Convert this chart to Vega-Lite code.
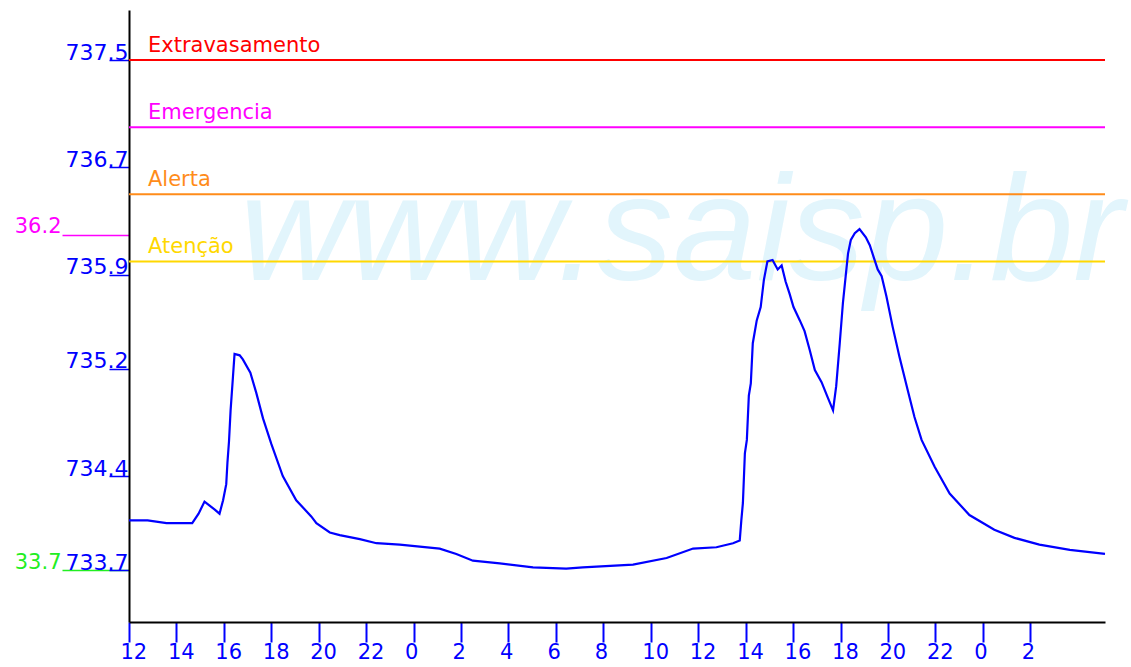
{
  "$schema": "https://vega.github.io/schema/vega-lite/v6.json",
  "width": 976,
  "height": 612,
  "autosize": {"type": "none"},
  "padding": {"left": 129, "top": 10, "right": 26, "bottom": 45},
  "background": "white",
  "config": {
    "view": {"stroke": null},
    "axis": {
      "grid": false,
      "domainColor": "#000000",
      "domainWidth": 2,
      "tickColor": "#0000ff",
      "tickWidth": 2,
      "labelColor": "#0000ff",
      "labelFont": "DejaVu Sans",
      "labelFontSize": 21,
      "labelOverlap": false,
      "labelFlush": false,
      "labelBound": false
    }
  },
  "datasets": {
    "cota": [
      {"t": "2010-01-01T12:00:00Z", "v": 734.07},
      {"t": "2010-01-01T12:47:00Z", "v": 734.07},
      {"t": "2010-01-01T13:35:00Z", "v": 734.05},
      {"t": "2010-01-01T14:40:00Z", "v": 734.05},
      {"t": "2010-01-01T14:56:00Z", "v": 734.12},
      {"t": "2010-01-01T15:11:00Z", "v": 734.21},
      {"t": "2010-01-01T15:24:00Z", "v": 734.18},
      {"t": "2010-01-01T15:37:00Z", "v": 734.15},
      {"t": "2010-01-01T15:49:00Z", "v": 734.12},
      {"t": "2010-01-01T15:58:00Z", "v": 734.22},
      {"t": "2010-01-01T16:06:00Z", "v": 734.34},
      {"t": "2010-01-01T16:09:00Z", "v": 734.50},
      {"t": "2010-01-01T16:13:00Z", "v": 734.66},
      {"t": "2010-01-01T16:17:00Z", "v": 734.89},
      {"t": "2010-01-01T16:23:00Z", "v": 735.14},
      {"t": "2010-01-01T16:27:00Z", "v": 735.31},
      {"t": "2010-01-01T16:40:00Z", "v": 735.30},
      {"t": "2010-01-01T16:48:00Z", "v": 735.27},
      {"t": "2010-01-01T17:07:00Z", "v": 735.17},
      {"t": "2010-01-01T17:22:00Z", "v": 735.02},
      {"t": "2010-01-01T17:39:00Z", "v": 734.83},
      {"t": "2010-01-01T18:00:00Z", "v": 734.64},
      {"t": "2010-01-01T18:29:00Z", "v": 734.40},
      {"t": "2010-01-01T19:03:00Z", "v": 734.22},
      {"t": "2010-01-01T19:41:00Z", "v": 734.10},
      {"t": "2010-01-01T19:54:00Z", "v": 734.05},
      {"t": "2010-01-01T20:28:00Z", "v": 733.98},
      {"t": "2010-01-01T20:53:00Z", "v": 733.96},
      {"t": "2010-01-01T21:44:00Z", "v": 733.93},
      {"t": "2010-01-01T22:26:00Z", "v": 733.90},
      {"t": "2010-01-01T23:25:00Z", "v": 733.89},
      {"t": "2010-01-02T01:06:00Z", "v": 733.86},
      {"t": "2010-01-02T01:48:00Z", "v": 733.82},
      {"t": "2010-01-02T02:30:00Z", "v": 733.77},
      {"t": "2010-01-02T03:38:00Z", "v": 733.75},
      {"t": "2010-01-02T05:02:00Z", "v": 733.72},
      {"t": "2010-01-02T06:26:00Z", "v": 733.71},
      {"t": "2010-01-02T07:08:00Z", "v": 733.72},
      {"t": "2010-01-02T09:15:00Z", "v": 733.74},
      {"t": "2010-01-02T10:40:00Z", "v": 733.79},
      {"t": "2010-01-02T11:47:00Z", "v": 733.86},
      {"t": "2010-01-02T12:46:00Z", "v": 733.87},
      {"t": "2010-01-02T13:28:00Z", "v": 733.90},
      {"t": "2010-01-02T13:45:00Z", "v": 733.92},
      {"t": "2010-01-02T13:49:00Z", "v": 734.07},
      {"t": "2010-01-02T13:53:00Z", "v": 734.20},
      {"t": "2010-01-02T13:58:00Z", "v": 734.57},
      {"t": "2010-01-02T14:03:00Z", "v": 734.67},
      {"t": "2010-01-02T14:08:00Z", "v": 735.00},
      {"t": "2010-01-02T14:13:00Z", "v": 735.09},
      {"t": "2010-01-02T14:18:00Z", "v": 735.39},
      {"t": "2010-01-02T14:28:00Z", "v": 735.56},
      {"t": "2010-01-02T14:38:00Z", "v": 735.66},
      {"t": "2010-01-02T14:46:00Z", "v": 735.86},
      {"t": "2010-01-02T14:55:00Z", "v": 736.00},
      {"t": "2010-01-02T15:08:00Z", "v": 736.01},
      {"t": "2010-01-02T15:21:00Z", "v": 735.94},
      {"t": "2010-01-02T15:31:00Z", "v": 735.97},
      {"t": "2010-01-02T15:41:00Z", "v": 735.85},
      {"t": "2010-01-02T15:51:00Z", "v": 735.76},
      {"t": "2010-01-02T16:01:00Z", "v": 735.66},
      {"t": "2010-01-02T16:17:00Z", "v": 735.56},
      {"t": "2010-01-02T16:29:00Z", "v": 735.48},
      {"t": "2010-01-02T16:42:00Z", "v": 735.34},
      {"t": "2010-01-02T16:55:00Z", "v": 735.19},
      {"t": "2010-01-02T17:12:00Z", "v": 735.10},
      {"t": "2010-01-02T17:27:00Z", "v": 734.99},
      {"t": "2010-01-02T17:41:00Z", "v": 734.89},
      {"t": "2010-01-02T17:49:00Z", "v": 735.07},
      {"t": "2010-01-02T17:58:00Z", "v": 735.39},
      {"t": "2010-01-02T18:06:00Z", "v": 735.69},
      {"t": "2010-01-02T18:13:00Z", "v": 735.89},
      {"t": "2010-01-02T18:19:00Z", "v": 736.06},
      {"t": "2010-01-02T18:26:00Z", "v": 736.16},
      {"t": "2010-01-02T18:36:00Z", "v": 736.21},
      {"t": "2010-01-02T18:48:00Z", "v": 736.24},
      {"t": "2010-01-02T19:04:00Z", "v": 736.18},
      {"t": "2010-01-02T19:14:00Z", "v": 736.12},
      {"t": "2010-01-02T19:24:00Z", "v": 736.03},
      {"t": "2010-01-02T19:34:00Z", "v": 735.94},
      {"t": "2010-01-02T19:44:00Z", "v": 735.89},
      {"t": "2010-01-02T19:56:00Z", "v": 735.74},
      {"t": "2010-01-02T20:12:00Z", "v": 735.51},
      {"t": "2010-01-02T20:29:00Z", "v": 735.29},
      {"t": "2010-01-02T20:50:00Z", "v": 735.04},
      {"t": "2010-01-02T21:07:00Z", "v": 734.84},
      {"t": "2010-01-02T21:25:00Z", "v": 734.67},
      {"t": "2010-01-02T21:58:00Z", "v": 734.47},
      {"t": "2010-01-02T22:36:00Z", "v": 734.27},
      {"t": "2010-01-02T23:26:00Z", "v": 734.11},
      {"t": "2010-01-03T00:29:00Z", "v": 734.00},
      {"t": "2010-01-03T01:20:00Z", "v": 733.94},
      {"t": "2010-01-03T02:23:00Z", "v": 733.89},
      {"t": "2010-01-03T03:40:00Z", "v": 733.85},
      {"t": "2010-01-03T05:09:00Z", "v": 733.82}
    ],
    "niveis": [
      {"nivel": "Extravasamento", "v": 737.5, "t": "2010-01-01T12:00:00Z", "t2": "2010-01-03T05:09:00Z"},
      {"nivel": "Emergencia", "v": 737.0, "t": "2010-01-01T12:00:00Z", "t2": "2010-01-03T05:09:00Z"},
      {"nivel": "Alerta", "v": 736.5, "t": "2010-01-01T12:00:00Z", "t2": "2010-01-03T05:09:00Z"},
      {"nivel": "Atenção", "v": 736.0, "t": "2010-01-01T12:00:00Z", "t2": "2010-01-03T05:09:00Z"}
    ],
    "marca": [
      {"texto": "www.saisp.br", "t": "2010-01-01T16:40:00Z", "v": 735.86}
    ]
  },
  "layer": [
    {
      "data": {"name": "marca"},
      "mark": {"type": "text", "font": "Liberation Sans", "fontStyle": "italic", "fontSize": 150, "color": "#e2f5fc", "align": "left", "baseline": "alphabetic"},
      "encoding": {
        "x": {
          "field": "t",
          "type": "temporal",
          "title": null,
          "scale": {"type": "utc", "domain": [1262347200000, 1262495340000]},
          "axis": {
            "values": [1262347200000, 1262354400000, 1262361600000, 1262368800000, 1262376000000, 1262383200000, 1262390400000, 1262397600000, 1262404800000, 1262412000000, 1262419200000, 1262426400000, 1262433600000, 1262440800000, 1262448000000, 1262455200000, 1262462400000, 1262469600000, 1262476800000, 1262484000000],
            "format": "%-H",
            "tickSize": 20,
            "labelPadding": -1,
            "labelAlign": "left",
            "labelOffset": -9,
            "labelBaseline": "top"
          }
        },
        "y": {"field": "v", "type": "quantitative", "axis": null, "scale": {"domain": [733.313, 737.873], "nice": false, "zero": false}},
        "text": {"field": "texto"}
      }
    },
    {
      "data": {"name": "niveis"},
      "mark": {"type": "rule", "strokeWidth": 2},
      "encoding": {
        "x": {"field": "t", "type": "temporal", "title": null},
        "x2": {"field": "t2"},
        "y": {
          "field": "v",
          "type": "quantitative",
          "title": null,
          "scale": {"domain": [733.313, 737.873], "nice": false, "zero": false},
          "axis": {
            "orient": "left",
            "values": [733.7],
            "domain": false,
            "tickSize": 67,
            "tickWidth": 1.5,
            "tickColor": "#22ee22",
            "labelColor": "#22ee22",
            "labelPadding": 1,
            "labelAlign": "right",
            "labelBaseline": "alphabetic",
            "labelOffset": -2,
            "labelExpr": "'33.7'"
          }
        },
        "color": {
          "field": "nivel",
          "type": "nominal",
          "legend": null,
          "scale": {"domain": ["Extravasamento", "Emergencia", "Alerta", "Atenção"], "range": ["#ff0000", "#ff00ff", "#ff8c1a", "#ffd800"]}
        }
      }
    },
    {
      "data": {"name": "niveis"},
      "mark": {"type": "text", "align": "left", "baseline": "alphabetic", "dx": 19, "dy": -8, "font": "DejaVu Sans", "fontSize": 21},
      "encoding": {
        "x": {"field": "t", "type": "temporal", "title": null},
        "y": {
          "field": "v",
          "type": "quantitative",
          "title": null,
          "scale": {"domain": [733.313, 737.873], "nice": false, "zero": false},
          "axis": {
            "orient": "left",
            "values": [736.2],
            "domain": false,
            "tickSize": 67,
            "tickWidth": 1.5,
            "tickColor": "#ff00ff",
            "labelColor": "#ff00ff",
            "labelPadding": 1,
            "labelAlign": "right",
            "labelBaseline": "alphabetic",
            "labelOffset": -2,
            "labelExpr": "'36.2'"
          }
        },
        "text": {"field": "nivel"},
        "color": {"field": "nivel", "type": "nominal", "legend": null}
      }
    },
    {
      "data": {"name": "cota"},
      "mark": {"type": "line", "color": "#0000ff", "strokeWidth": 2.2},
      "encoding": {
        "x": {"field": "t", "type": "temporal", "title": null},
        "y": {
          "field": "v",
          "type": "quantitative",
          "title": null,
          "scale": {"domain": [733.313, 737.873], "nice": false, "zero": false},
          "axis": {
            "orient": "left",
            "values": [733.7, 734.4, 735.2, 735.9, 736.7, 737.5],
            "tickSize": 20,
            "tickWidth": 1.5,
            "labelFontSize": 22,
            "labelPadding": -19,
            "labelAlign": "right",
            "labelBaseline": "alphabetic",
            "labelOffset": -1,
            "format": ".1f"
          }
        }
      }
    }
  ],
  "resolve": {"axis": {"y": "independent"}}
}
